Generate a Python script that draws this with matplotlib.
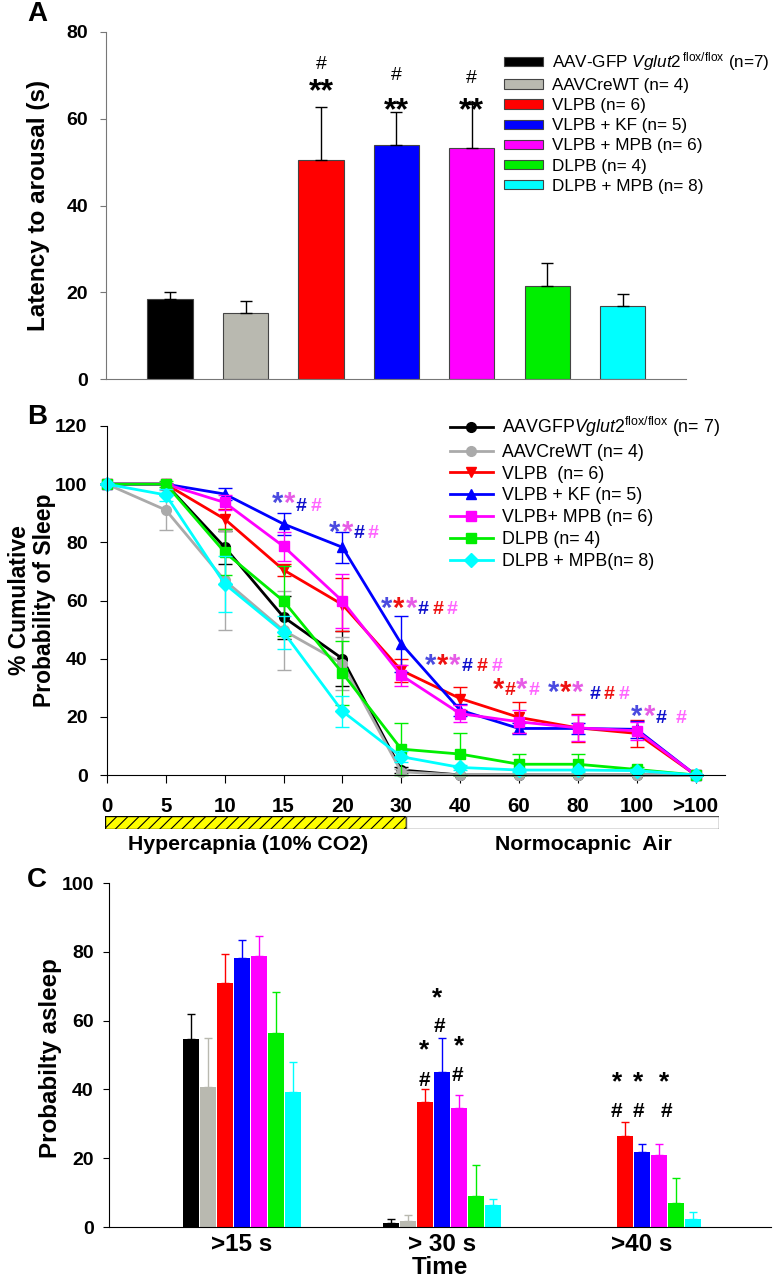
import numpy as np
import matplotlib
matplotlib.use('Agg')
import matplotlib.pyplot as plt
from matplotlib.patches import Rectangle, Patch

plt.rcParams['font.family'] = ['Liberation Sans', 'DejaVu Sans']
plt.rcParams['mathtext.fontset'] = 'custom'
plt.rcParams['mathtext.rm'] = 'Liberation Sans'
plt.rcParams['mathtext.it'] = 'Liberation Sans:italic'
plt.rcParams['mathtext.bf'] = 'Liberation Sans:bold'
plt.rcParams['hatch.linewidth'] = 0.8

colors = ['#000000', '#b9b9b0', '#ff0000', '#0000ff', '#ff00ff', '#00ee00', '#00ffff']

# panel A - latency to arousal
labels_a = ['AAV-GFP $\\mathit{Vglut2}^{\\,\\mathrm{flox/flox}}$ (n=7)', 'AAVCreWT (n= 4)',
            'VLPB (n= 6)', 'VLPB + KF (n= 5)', 'VLPB + MPB (n= 6)', 'DLPB (n= 4)',
            'DLPB + MPB (n= 8)']
lat_mean = [18.5, 15.2, 50.5, 53.9, 53.3, 21.4, 16.8]
lat_err = [1.6, 2.8, 12.1, 7.6, 10.1, 5.3, 2.8]

# panel B - cumulative probability of sleep
times = ['0', '5', '10', '15', '20', '30', '40', '60', '80', '100', '>100']
labels_b = ['AAVGFP$\\mathit{Vglut2}^{\\mathrm{flox/flox}}$ (n= 7)', 'AAVCreWT (n= 4)',
            'VLPB  (n= 6)', 'VLPB + KF (n= 5)', 'VLPB+ MPB (n= 6)', 'DLPB (n= 4)',
            'DLPB + MPB(n= 8)']
sleep_mean = [
    [100, 100, 78.3, 54.3, 40.0, 1.7, 0, 0, 0, 0, 0],
    [100, 91.1, 66.9, 49.7, 38.3, 1.1, 0, 0, 0, 0, 0],
    [100, 100, 88.0, 70.5, 58.6, 36.0, 26.3, 19.8, 16.2, 14.3, 0],
    [100, 100, 96.6, 86.3, 78.3, 45.1, 22.3, 16.0, 16.0, 15.7, 0],
    [100, 100, 93.7, 78.6, 59.8, 34.3, 21.1, 18.3, 16.2, 15.2, 0],
    [100, 100, 76.6, 59.8, 35.1, 8.9, 7.2, 3.7, 3.7, 1.9, 0],
    [100, 96.3, 65.7, 49.1, 21.9, 6.3, 2.6, 1.7, 1.7, 1.5, 0],
]
sleep_err = [
    [0, 0, 5.7, 7.4, 9.4, 1.0, 0, 0, 0, 0, 0],
    [0, 7.0, 17.0, 13.5, 9.0, 1.0, 0, 0, 0, 0, 0],
    [0, 0, 3.5, 2.0, 9.0, 4.0, 4.0, 5.4, 4.9, 4.7, 0],
    [0, 0, 2.0, 3.8, 5.3, 9.7, 2.0, 2.0, 2.0, 3.0, 0],
    [0, 0, 2.5, 4.9, 9.4, 3.6, 3.0, 4.0, 4.5, 3.0, 0],
    [0, 1.0, 8.0, 12.0, 11.0, 9.0, 7.2, 3.6, 3.6, 1.0, 0],
    [0, 2.0, 9.5, 5.7, 5.3, 2.0, 1.0, 0.5, 0.5, 0.5, 0],
]
markers = ['o', 'o', 'v', '^', 's', 's', 'D']

# panel C - probability asleep
groups_c = ['>15 s', '> 30 s', '>40 s']
asleep_mean = [
    [54.6, 1.3, np.nan],
    [40.6, 1.7, np.nan],
    [70.8, 36.3, 26.4],
    [78.1, 45.0, 21.8],
    [78.8, 34.5, 21.0],
    [56.3, 9.0, 7.1],
    [39.1, 6.3, 2.4],
]
asleep_err = [
    [7.4, 1.1, np.nan],
    [14.4, 1.7, np.nan],
    [8.5, 3.8, 4.0],
    [5.2, 9.8, 2.4],
    [5.9, 3.9, 3.1],
    [12.0, 9.0, 7.2],
    [9.0, 1.8, 2.0],
]

W, H = 775, 1280
fig = plt.figure(figsize=(W / 100, H / 100), dpi=100)


def box(l, t, r, b):
    return [l / W, 1 - b / H, (r - l) / W, (b - t) / H]


def bold_ticks(ax):
    plt.setp(ax.get_xticklabels(), fontweight='bold')
    plt.setp(ax.get_yticklabels(), fontweight='bold')


# ---------------- A ----------------
axA = fig.add_axes(box(106, 32, 686, 379))
xa = np.arange(1, 8)
axA.bar(xa, lat_mean, 0.6, color=colors, edgecolor='#444444', linewidth=0.8,
        yerr=[np.zeros(7), lat_err], capsize=4,
        error_kw=dict(ecolor='black', elinewidth=1, capthick=1))
axA.set_xlim(0.15, 7.84)
axA.set_ylim(0, 80)
axA.set_yticks(np.arange(0, 81, 20))
axA.set_xticks([])
for s in ['top', 'right']:
    axA.spines[s].set_visible(False)
for s in ['left', 'bottom']:
    axA.spines[s].set_color('#777777')
axA.tick_params(axis='y', length=4, color='#777777', pad=9, labelsize=14)
bold_ticks(axA)
axA.set_ylabel('Latency to arousal (s)', fontsize=17.5, fontweight='bold')
axA.yaxis.set_label_coords(-0.097, 0.5)
for i, (yh, ys) in zip([2, 3, 4], [(72.6, 69.1), (69.9, 64.7), (69.3, 64.7)]):
    axA.text(xa[i], yh, '#', ha='center', va='center', fontsize=14)
    axA.text(xa[i], ys - 3, '**', ha='center', va='center', fontsize=23, fontweight='bold')
handles = [Patch(facecolor=c, edgecolor='#444444', linewidth=0.8) for c in colors]
axA.legend(handles, labels_a, loc='upper left', bbox_to_anchor=(504 / W, 1 - 50 / H),
           bbox_transform=fig.transFigure, frameon=False, fontsize=12.3,
           handlelength=2.3, handleheight=0.45, handletextpad=0.5,
           labelspacing=0.3, borderpad=0, borderaxespad=0)

# ---------------- B ----------------
axB = fig.add_axes(box(107, 426, 725, 775))
xb = np.arange(len(times))
for c, m, ys, es, lab in zip(colors, markers, sleep_mean, sleep_err, labels_b):
    lc = '#aaaaaa' if c == '#b9b9b0' else c
    axB.errorbar(xb, ys, yerr=es, fmt='none', ecolor=lc, elinewidth=1, capsize=5,
                 capthick=1, clip_on=False)
    axB.plot(xb, ys, color=lc, marker=m, ms=7, lw=2, label=lab, clip_on=False)
axB.set_xlim(0, 10.5)
axB.set_ylim(0, 120)
axB.set_yticks(np.arange(0, 121, 20))
axB.set_xticks(xb)
axB.set_xticklabels(times)
for s in ['top', 'right']:
    axB.spines[s].set_visible(False)
axB.tick_params(axis='y', length=5, pad=9, labelsize=14)
axB.tick_params(axis='x', length=6, pad=10, labelsize=14.8)
bold_ticks(axB)
axB.set_ylabel('% Cumulative\nProbability of Sleep', fontsize=16.5, fontweight='bold',
               linespacing=1.15)
axB.yaxis.set_label_coords(-0.082, 0.5)
axB.legend(loc='upper left', bbox_to_anchor=(450 / W, 1 - 415 / H),
           bbox_transform=fig.transFigure, frameon=False, fontsize=12.8,
           handlelength=2.4, handletextpad=0.5, labelspacing=0.27,
           borderpad=0, borderaxespad=0)

star_b = '#4b4be0'
star_m = '#e65ce6'
hash_b = '#1010cc'
hash_m = '#ff66ff'
red = '#ee1111'
marks_b = [
    (2.9, 96.6, '*', star_b), (3.1, 96.6, '*', star_m), (3.3, 92.2, '#', hash_b), (3.55, 92.2, '#', hash_m),
    (3.86, 86.9, '*', star_b), (4.08, 86.9, '*', star_m), (4.28, 82.9, '#', hash_b), (4.52, 82.9, '#', hash_m),
    (4.75, 60.6, '*', star_b), (4.96, 60.6, '*', red), (5.17, 60.6, '*', star_m),
    (5.37, 56.8, '#', hash_b), (5.63, 56.8, '#', red), (5.87, 56.8, '#', hash_m),
    (5.5, 41.1, '*', star_b), (5.7, 41.1, '*', red), (5.91, 41.1, '*', star_m),
    (6.12, 37.4, '#', hash_b), (6.37, 37.4, '#', red), (6.62, 37.4, '#', hash_m),
    (6.65, 32.6, '*', red), (6.85, 28.9, '#', red), (7.05, 32.6, '*', star_m), (7.25, 28.9, '#', hash_m),
    (7.59, 31.7, '*', star_b), (7.79, 31.7, '*', red), (8.0, 31.7, '*', star_m),
    (8.3, 27.8, '#', hash_b), (8.53, 27.8, '#', red), (8.79, 27.8, '#', hash_m),
    (9.0, 23.4, '*', star_b), (9.22, 23.4, '*', star_m), (9.41, 19.4, '#', hash_b), (9.76, 19.4, '#', hash_m),
]
for x, y, t, c in marks_b:
    if t == '*':
        axB.text(x, y - 3.5, t, color=c, ha='center', va='center', fontsize=21, fontweight='bold')
    else:
        axB.text(x, y, t, color=c, ha='center', va='center', fontsize=14, fontweight='bold')

# gas bar under B
axG = fig.add_axes(box(105, 816, 719, 829))
axG.set_xlim(0, 1)
axG.set_ylim(0, 1)
axG.axis('off')
split = (406 - 105) / (719 - 105)
axG.add_patch(Rectangle((0, 0), split, 1, facecolor='#ffff00', edgecolor='black',
                        hatch='///', linewidth=1))
axG.add_patch(Rectangle((split, 0), 1 - split, 1, facecolor='white', edgecolor='#555555',
                        linewidth=1))
fig.text(248 / W, 1 - 845 / H, 'Hypercapnia (10% CO2)', ha='center', va='center',
         fontsize=15.3, fontweight='bold')
fig.text(583 / W, 1 - 845 / H, 'Normocapnic  Air', ha='center', va='center',
         fontsize=15.3, fontweight='bold')

# ---------------- C ----------------
axC = fig.add_axes(box(109, 883, 771, 1227))
gx = np.arange(len(groups_c))
offs = (np.arange(7) - 3) * 0.085
for i, (c, ys, es) in enumerate(zip(colors, asleep_mean, asleep_err)):
    axC.bar(gx + offs[i], ys, 0.08, color=c, yerr=[np.zeros(3), es], capsize=3,
            error_kw=dict(ecolor=c, elinewidth=1, capthick=1))
axC.set_xlim(-0.663, 2.647)
axC.set_ylim(0, 100)
axC.set_yticks(np.arange(0, 101, 20))
axC.set_xticks(gx)
axC.set_xticklabels(groups_c)
for s in ['top', 'right']:
    axC.spines[s].set_visible(False)
axC.tick_params(axis='y', length=4, pad=7, labelsize=14)
axC.tick_params(axis='x', length=0, pad=4, labelsize=17.5)
bold_ticks(axC)
axC.set_xlabel('Time', fontsize=17.5, fontweight='bold', labelpad=0)
axC.set_ylabel('Probabilty asleep', fontsize=17.4, fontweight='bold')
axC.yaxis.set_label_coords(-0.071, 0.49)
marks_c = [
    (1, 2, -0.002, 53.9, '*'), (1, 2, -0.002, 42.7, '#'),
    (1, 3, -0.025, 69.1, '*'), (1, 3, -0.01, 58.3, '#'),
    (1, 4, 0.0, 54.9, '*'), (1, 4, -0.005, 43.9, '#'),
    (2, 2, -0.036, 44.7, '*'), (2, 2, -0.039, 33.7, '#'),
    (2, 3, -0.02, 44.7, '*'), (2, 3, -0.015, 33.7, '#'),
    (2, 4, 0.029, 44.7, '*'), (2, 4, 0.041, 33.7, '#'),
]
for g, i, dx, y, t in marks_c:
    x = gx[g] + offs[i] + dx
    if t == '*':
        axC.text(x, y - 2.5, t, ha='center', va='center', fontsize=19, fontweight='bold')
    else:
        axC.text(x, y, t, ha='center', va='center', fontsize=15, fontweight='bold')

for lab, y in [('A', 14), ('B', 417), ('C', 880)]:
    fig.text(37 / W, 1 - y / H, lab, ha='center', va='center', fontsize=20, fontweight='bold')

fig.savefig('out.png', dpi=100)
